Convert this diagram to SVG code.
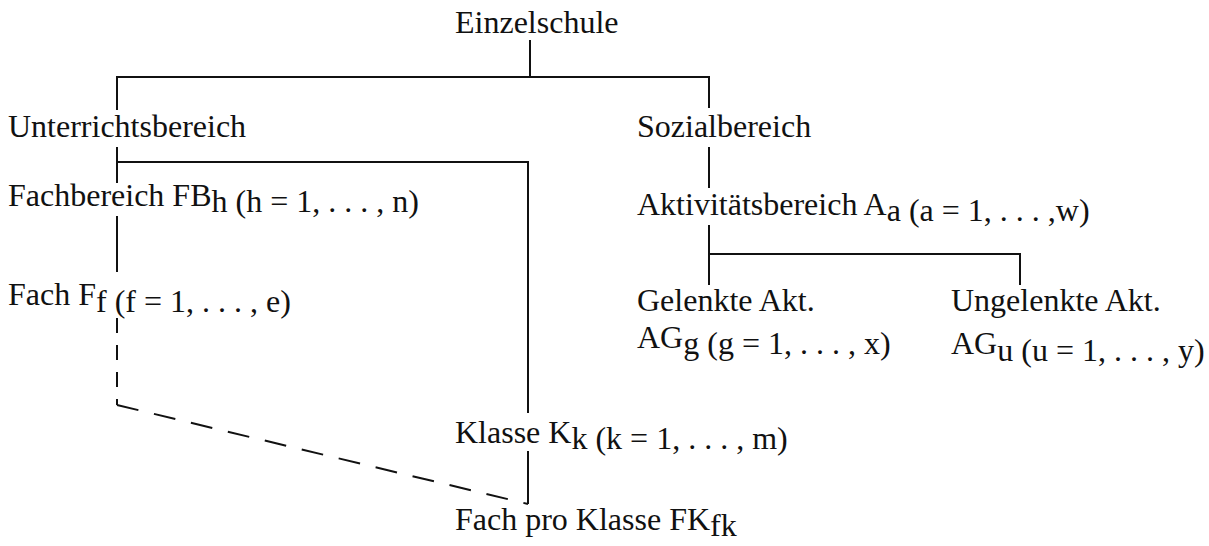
<svg xmlns="http://www.w3.org/2000/svg" width="1209" height="546" viewBox="0 0 1209 546">
  <style>
    text { font-family: "Liberation Serif", "Times New Roman", serif; font-size: 32px; fill: #111; }
    .ln { stroke: #111; stroke-width: 2; fill: none; }
    .dash-v { stroke: #111; stroke-width: 2; fill: none; stroke-dasharray: 15 12; }
    .dash-d { stroke: #111; stroke-width: 2; fill: none; stroke-dasharray: 22 16; }
  </style>
  <rect width="1209" height="546" fill="#fff"/>

  <g id="connectors">
    <!-- root fork -->
    <path class="ln" d="M530 40 V77 M117 110 V77 H709 V108"/>
    <!-- Unterrichtsbereich branch -->
    <path class="ln" d="M117 147 V183 M117 162 H528 V413"/>
    <path class="ln" d="M117 216 V272"/>
    <path class="ln" d="M528 451 V504"/>
    <path class="dash-v" d="M117 318 V405"/>
    <path class="dash-d" d="M117 405 L528 504"/>
    <!-- Sozialbereich branch -->
    <path class="ln" d="M709 147 V188"/>
    <path class="ln" d="M709 225 V285 M709 254 H1020 V285"/>
  </g>

  <g id="einzelschule"><text x="455" y="33">Einzelschule</text></g>
  <g id="unterrichtsbereich"><text x="8" y="137">Unterrichtsbereich</text></g>
  <g id="sozialbereich"><text x="637" y="137">Sozialbereich</text></g>
  <g id="fachbereich"><text x="8" y="206">Fachbereich FB<tspan dy="6">h (h = 1, . . . , n)</tspan></text></g>
  <g id="fach"><text x="8" y="305">Fach F<tspan dy="7">f (f = 1, . . . , e)</tspan></text></g>
  <g id="klasse"><text x="455" y="443">Klasse K<tspan dy="6">k (k = 1, . . . , m)</tspan></text></g>
  <g id="fach-pro-klasse"><text x="455" y="530">Fach pro Klasse FK<tspan dy="6">fk</tspan></text></g>
  <g id="aktivitaetsbereich"><text x="637" y="215">Aktivitätsbereich A<tspan dy="6">a (a = 1, . . . ,w)</tspan></text></g>
  <g id="gelenkte"><text x="637" y="311">Gelenkte Akt.</text><text x="637" y="348">AG<tspan dy="6">g (g = 1, . . . , x)</tspan></text></g>
  <g id="ungelenkte"><text x="951" y="311">Ungelenkte Akt.</text><text x="951" y="354">AG<tspan dy="7">u (u = 1, . . . , y)</tspan></text></g>
</svg>
